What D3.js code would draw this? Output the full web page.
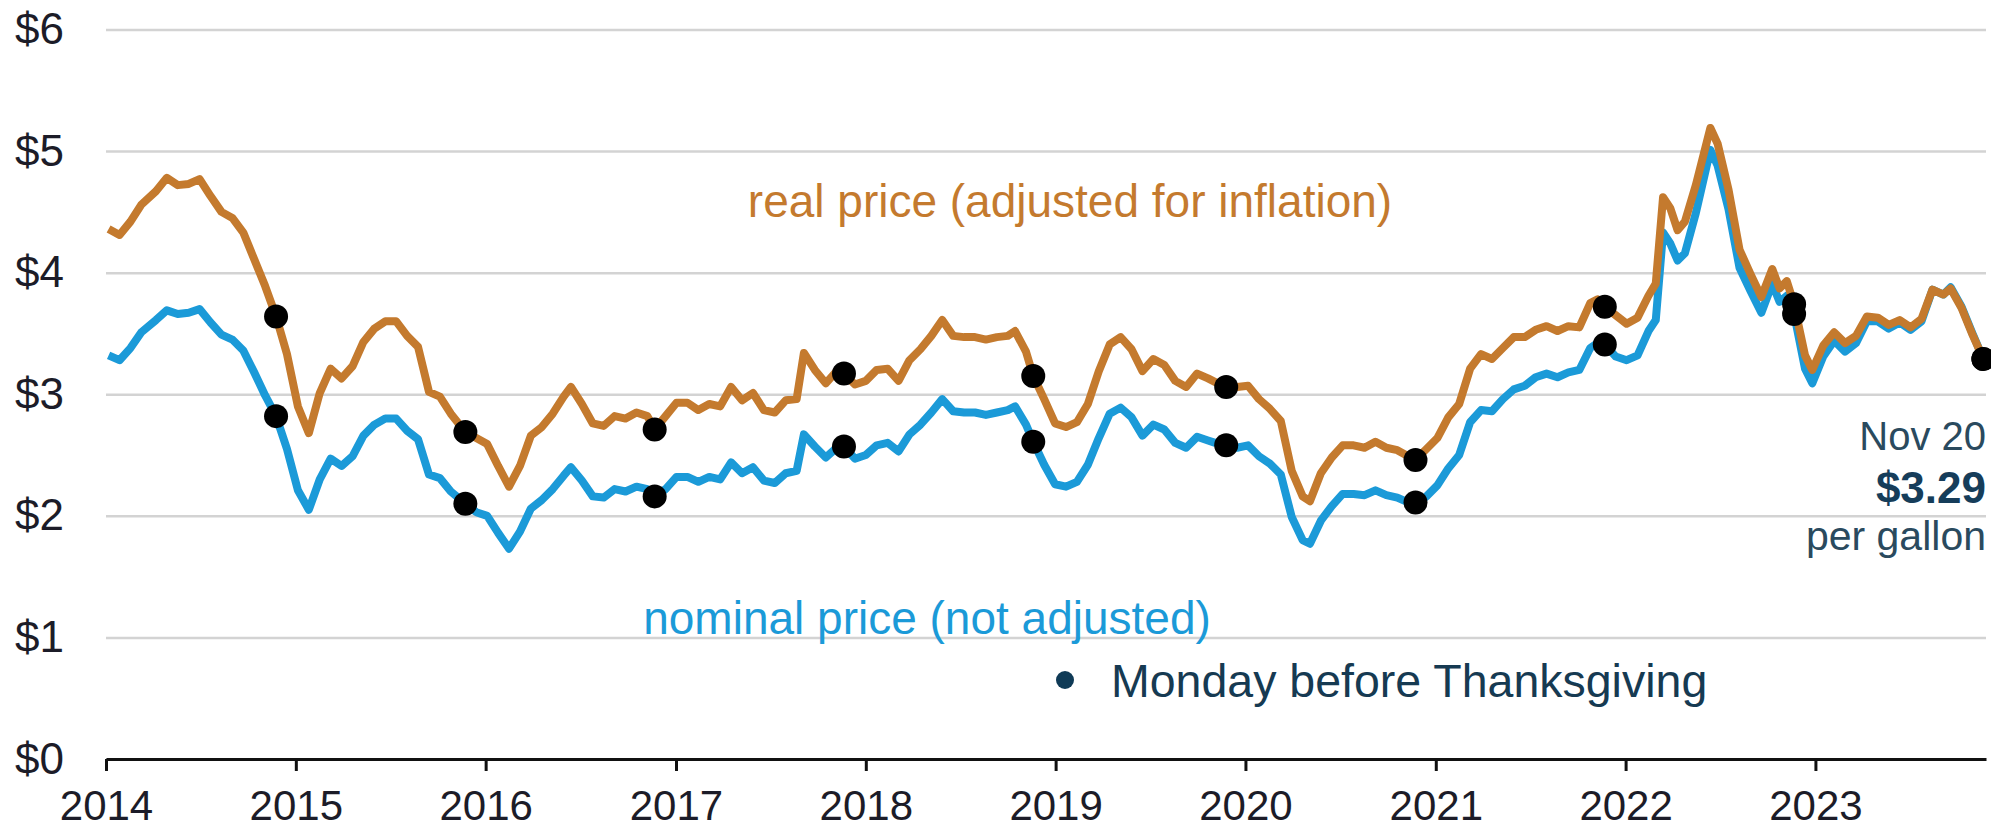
<!DOCTYPE html>
<head>
<meta charset="utf-8">
<script src="https://d3js.org/d3.v7.min.js"></script>
<style>
body { margin: 0; background: #fff; }
svg { font-family: "Liberation Sans", Arial, sans-serif; }
.grid .tick line { stroke: #d3d3d3; stroke-width: 2.5; }
.grid .tick text { fill: #1c1c28; font-size: 44px; }
.grid path { display: none; }
.axis--x path, .axis--x line { stroke: #111; stroke-width: 3; }
.axis--x text { fill: #1c1c28; font-size: 42px; }
</style>
</head>
<body>
<script>
// weekly readings, roughly every three weeks
var dates = [
  "2014-01-06","2014-01-27","2014-02-17","2014-03-10","2014-04-07","2014-04-28","2014-05-19","2014-06-09","2014-06-30","2014-07-21","2014-08-11","2014-09-01","2014-09-22","2014-10-13","2014-11-03","2014-11-24","2014-12-15",
  "2015-01-05","2015-01-26","2015-02-16","2015-03-09","2015-03-30","2015-04-20","2015-05-11","2015-06-01","2015-06-22","2015-07-13","2015-08-03","2015-08-24","2015-09-14","2015-10-05","2015-10-26","2015-11-23","2015-12-14",
  "2016-01-04","2016-01-25","2016-02-15","2016-03-07","2016-03-28","2016-04-18","2016-05-09","2016-05-30","2016-06-13","2016-07-04","2016-07-25","2016-08-15","2016-09-05","2016-09-26","2016-10-17","2016-11-07","2016-11-21","2016-12-12",
  "2017-01-02","2017-01-23","2017-02-13","2017-03-06","2017-03-27","2017-04-17","2017-05-08","2017-05-29","2017-06-19","2017-07-10","2017-07-31","2017-08-21","2017-09-04","2017-09-25","2017-10-16","2017-11-06","2017-11-20","2017-12-11",
  "2018-01-01","2018-01-22","2018-02-12","2018-03-05","2018-03-26","2018-04-16","2018-05-07","2018-05-28","2018-06-18","2018-07-09","2018-07-30","2018-08-20","2018-09-10","2018-10-01","2018-10-15","2018-11-05","2018-11-19","2018-12-10","2018-12-31",
  "2019-01-21","2019-02-11","2019-03-04","2019-03-25","2019-04-15","2019-05-06","2019-05-27","2019-06-17","2019-07-08","2019-07-29","2019-08-19","2019-09-09","2019-09-30","2019-10-21","2019-11-04","2019-11-25","2019-12-16",
  "2020-01-06","2020-01-27","2020-02-17","2020-03-09","2020-03-30","2020-04-20","2020-05-04","2020-05-25","2020-06-15","2020-07-06","2020-07-27","2020-08-17","2020-09-07","2020-09-28","2020-10-19","2020-11-09","2020-11-23","2020-12-14",
  "2021-01-04","2021-01-25","2021-02-15","2021-03-08","2021-03-29","2021-04-19","2021-05-10","2021-05-31","2021-06-21","2021-07-12","2021-08-02","2021-08-23","2021-09-13","2021-10-04","2021-10-25","2021-11-08","2021-11-22","2021-12-13",
  "2022-01-03","2022-01-24","2022-02-14","2022-02-28","2022-03-14","2022-03-28","2022-04-11","2022-04-25","2022-05-16","2022-06-13","2022-06-27","2022-07-18","2022-08-08","2022-08-29","2022-09-19","2022-10-10","2022-10-24","2022-11-07","2022-11-21","2022-12-12","2022-12-26",
  "2023-01-16","2023-02-06","2023-02-27","2023-03-20","2023-04-10","2023-05-01","2023-05-22","2023-06-12","2023-07-03","2023-07-24","2023-08-14","2023-09-04","2023-09-18","2023-10-09","2023-10-30","2023-11-20"
];

var nominal = [
  3.32,3.28,3.38,3.51,3.61,3.69,3.66,3.67,3.70,3.59,3.49,3.45,3.36,3.18,2.99,2.82,2.55,
  2.21,2.05,2.30,2.47,2.41,2.49,2.66,2.75,2.80,2.80,2.70,2.63,2.34,2.31,2.20,2.10,2.03,
  2.00,1.86,1.73,1.87,2.06,2.13,2.22,2.33,2.40,2.29,2.16,2.15,2.22,2.20,2.24,2.22,2.16,2.22,
  2.32,2.32,2.28,2.32,2.30,2.44,2.35,2.40,2.29,2.27,2.35,2.37,2.67,2.57,2.48,2.56,2.57,2.47,
  2.50,2.58,2.60,2.53,2.67,2.75,2.85,2.96,2.86,2.85,2.85,2.83,2.85,2.87,2.90,2.75,2.61,2.42,2.26,
  2.24,2.28,2.42,2.64,2.84,2.89,2.81,2.66,2.75,2.71,2.60,2.56,2.65,2.62,2.60,2.58,2.56,
  2.58,2.49,2.43,2.34,1.99,1.80,1.77,1.96,2.08,2.18,2.18,2.17,2.21,2.17,2.15,2.11,2.11,2.16,
  2.25,2.39,2.50,2.77,2.87,2.86,2.96,3.04,3.07,3.14,3.17,3.14,3.18,3.20,3.38,3.42,3.41,3.31,
  3.28,3.32,3.52,3.61,4.33,4.24,4.10,4.16,4.49,5.01,4.88,4.52,4.04,3.85,3.67,3.91,3.76,3.81,3.66,3.21,3.09,
  3.31,3.44,3.35,3.42,3.60,3.60,3.54,3.59,3.53,3.60,3.86,3.82,3.88,3.72,3.50,3.29
];

var real = [
  4.36,4.31,4.42,4.56,4.67,4.78,4.72,4.73,4.77,4.63,4.50,4.45,4.33,4.11,3.89,3.64,3.33,
  2.90,2.68,3.01,3.21,3.13,3.23,3.43,3.54,3.60,3.60,3.48,3.39,3.02,2.98,2.84,2.69,2.64,
  2.59,2.41,2.24,2.41,2.66,2.73,2.84,2.98,3.06,2.92,2.76,2.74,2.82,2.80,2.85,2.82,2.71,2.82,
  2.93,2.93,2.87,2.92,2.90,3.06,2.95,3.01,2.87,2.85,2.95,2.96,3.34,3.20,3.09,3.19,3.17,3.08,
  3.11,3.20,3.21,3.11,3.28,3.37,3.48,3.61,3.48,3.47,3.47,3.45,3.47,3.48,3.52,3.35,3.15,2.96,2.76,
  2.73,2.77,2.92,3.19,3.41,3.47,3.37,3.19,3.29,3.24,3.11,3.06,3.17,3.13,3.10,3.06,3.06,
  3.07,2.96,2.88,2.78,2.37,2.16,2.12,2.35,2.48,2.58,2.58,2.56,2.61,2.56,2.54,2.49,2.46,2.55,
  2.64,2.81,2.92,3.21,3.33,3.29,3.38,3.47,3.47,3.53,3.56,3.52,3.56,3.55,3.75,3.78,3.72,3.65,
  3.58,3.63,3.81,3.91,4.62,4.53,4.35,4.42,4.72,5.19,5.06,4.68,4.19,3.99,3.80,4.03,3.87,3.93,3.74,3.32,3.20,
  3.40,3.51,3.42,3.48,3.64,3.63,3.57,3.61,3.55,3.62,3.86,3.82,3.87,3.71,3.49,3.29
];

// Monday before Thanksgiving
var tgDates = ["2014-11-24","2015-11-23","2016-11-21","2017-11-20","2018-11-19","2019-11-25","2020-11-23","2021-11-22","2022-11-21","2023-11-20"];
var tgNominal = [2.82, 2.10, 2.16, 2.57, 2.61, 2.58, 2.11, 3.41, 3.66, 3.29];
var tgReal = [3.64, 2.69, 2.71, 3.17, 3.15, 3.06, 2.46, 3.72, 3.74, 3.29];

var yTicks = [0, 1, 2, 3, 4, 5, 6];

var W = 1991, H = 830;
var plotL = 106, plotR = 1986, plotT = 29.5, plotB = 759;

var parse = d3.timeParse("%Y-%m-%d");

var svg = d3.select("body").append("svg")
    .attr("width", W)
    .attr("height", H);

var x = d3.scaleTime()
    .domain([parse("2014-01-01"), parse("2023-11-25")])
    .range([plotL, plotR]);

var y = d3.scaleLinear()
    .domain([0, 6])
    .range([plotB, plotT]);

svg.append("g")
    .attr("class", "grid")
    .attr("transform", "translate(" + plotL + ",0)")
    .call(d3.axisLeft(y)
        .tickValues(yTicks)
        .tickSize(-(plotR - plotL))
        .tickPadding(42)
        .tickFormat(function(d) { return "$" + d; }));

svg.append("g")
    .attr("class", "axis--x")
    .attr("transform", "translate(0," + plotB + ")")
    .call(d3.axisBottom(x)
        .ticks(d3.timeYear.every(1))
        .tickSizeInner(12)
        .tickSizeOuter(0)
        .tickPadding(19)
        .tickFormat(d3.timeFormat("%Y")));

var series = dates.map(function(d, i) {
    return { date: parse(d), nominal: nominal[i], real: real[i] };
});

var lineNominal = d3.line()
    .x(function(d) { return x(d.date); })
    .y(function(d) { return y(d.nominal); });

var lineReal = d3.line()
    .x(function(d) { return x(d.date); })
    .y(function(d) { return y(d.real); });

svg.append("path")
    .datum(series)
    .attr("fill", "none")
    .attr("stroke", "#1b9ad8")
    .attr("stroke-width", 8)
    .attr("stroke-linejoin", "round")
    .attr("d", lineNominal);

svg.append("path")
    .datum(series)
    .attr("fill", "none")
    .attr("stroke", "#c47a2e")
    .attr("stroke-width", 8)
    .attr("stroke-linejoin", "round")
    .attr("d", lineReal);

var dots = [];
tgDates.forEach(function(d, i) {
    dots.push({ date: parse(d), v: tgNominal[i] });
    dots.push({ date: parse(d), v: tgReal[i] });
});

svg.selectAll(".dot")
    .data(dots)
    .enter().append("circle")
    .attr("class", "dot")
    .attr("cx", function(d) { return x(d.date); })
    .attr("cy", function(d) { return y(d.v); })
    .attr("r", 12)
    .attr("fill", "#000");

// series labels
svg.append("text")
    .attr("x", 1070)
    .attr("y", 217)
    .attr("text-anchor", "middle")
    .style("font-size", "46px")
    .style("fill", "#c47a2e")
    .text("real price (adjusted for inflation)");

svg.append("text")
    .attr("x", 927)
    .attr("y", 634)
    .attr("text-anchor", "middle")
    .style("font-size", "46px")
    .style("fill", "#1b9ad8")
    .text("nominal price (not adjusted)");

// legend
svg.append("circle")
    .attr("cx", 1065)
    .attr("cy", 680)
    .attr("r", 9)
    .attr("fill", "#0f3a56");

svg.append("text")
    .attr("x", 1111)
    .attr("y", 697)
    .style("font-size", "46.5px")
    .style("fill", "#163a52")
    .text("Monday before Thanksgiving");

// latest value note
var note = svg.append("g").attr("text-anchor", "end");
note.append("text")
    .attr("x", 1986).attr("y", 450)
    .style("font-size", "40px").style("fill", "#2a4a5e")
    .text("Nov 20");
note.append("text")
    .attr("x", 1986).attr("y", 503)
    .style("font-size", "44px").style("font-weight", "bold").style("fill", "#163d5a")
    .text("$3.29");
note.append("text")
    .attr("x", 1986).attr("y", 550)
    .style("font-size", "41px").style("fill", "#2a4a5e")
    .text("per gallon");
</script>
</body>
